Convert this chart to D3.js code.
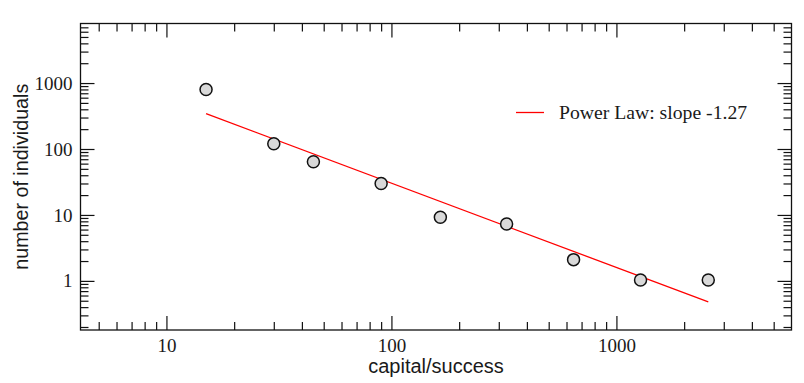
<!DOCTYPE html>
<html>
<head>
<meta charset="utf-8">
<script src="https://cdn.jsdelivr.net/npm/d3@7"></script>
<style>
  html, body { margin: 0; padding: 0; background: #fff; }
  svg { display: block; }
</style>
</head>
<body>
<svg id="chart" width="804" height="383"></svg>
<script>
// ---- data ----
const capital = [15, 30, 45, 90, 165, 325, 645, 1280, 2560];
const individuals = [800, 120, 64, 30, 9.2, 7.3, 2.1, 1.03, 1.03];
const fitX = [15, 2560];
const fitY = [344, 0.48];
const legendLabel = "Power Law: slope -1.27";
const xMajor = [10, 100, 1000];
const xMinor = [5, 6, 7, 8, 9, 20, 30, 40, 50, 60, 70, 80, 90, 200, 300, 400, 500, 600, 700, 800, 900, 2000, 3000, 4000, 5000];
const yMajor = [1, 10, 100, 1000];
const yMinor = [0.2, 0.3, 0.4, 0.5, 0.6, 0.7, 0.8, 0.9, 2, 3, 4, 5, 6, 7, 8, 9, 20, 30, 40, 50, 60, 70, 80, 90, 200, 300, 400, 500, 600, 700, 800, 900, 2000, 3000, 4000, 5000, 6000, 7000];
const xTitle = "capital/success";
const yTitle = "number of individuals";

// ---- layout ----
const L = 80.5, R = 791.5, T = 23.5, B = 330;
const svg = d3.select("#chart");
const x = d3.scaleLog().domain([4.15, 6000]).range([L, R]);
const y = d3.scaleLog().domain([0.18, 8000]).range([B, T]);

const serif = "'Liberation Serif', 'Times New Roman', serif";
const sans = "'Liberation Sans', Arial, sans-serif";

function styleAxis(g) {
  g.select(".domain").remove();
  g.selectAll(".tick line").attr("stroke", "#111").attr("stroke-width", 1.2);
  g.selectAll(".tick text").attr("font-family", serif).attr("font-size", 19).attr("fill", "#1a1a1a");
}

// bottom
svg.append("g").attr("transform", `translate(0,${B})`)
  .call(d3.axisBottom(x).tickValues(xMajor).tickSize(-14).tickPadding(8.5).tickFormat(d3.format("d")))
  .call(styleAxis);
svg.append("g").attr("transform", `translate(0,${B})`)
  .call(d3.axisBottom(x).tickValues(xMinor).tickSize(-8).tickFormat(""))
  .call(styleAxis);
// top
svg.append("g").attr("transform", `translate(0,${T})`)
  .call(d3.axisTop(x).tickValues(xMajor).tickSize(-14).tickFormat(""))
  .call(styleAxis);
svg.append("g").attr("transform", `translate(0,${T})`)
  .call(d3.axisTop(x).tickValues(xMinor).tickSize(-8).tickFormat(""))
  .call(styleAxis);
// left
svg.append("g").attr("transform", `translate(${L},0)`)
  .call(d3.axisLeft(y).tickValues(yMajor).tickSize(-14).tickPadding(8).tickFormat(d3.format("d")))
  .call(styleAxis);
svg.append("g").attr("transform", `translate(${L},0)`)
  .call(d3.axisLeft(y).tickValues(yMinor).tickSize(-8).tickFormat(""))
  .call(styleAxis);
// right
svg.append("g").attr("transform", `translate(${R},0)`)
  .call(d3.axisRight(y).tickValues(yMajor).tickSize(-14).tickFormat(""))
  .call(styleAxis);
svg.append("g").attr("transform", `translate(${R},0)`)
  .call(d3.axisRight(y).tickValues(yMinor).tickSize(-8).tickFormat(""))
  .call(styleAxis);

// frame
svg.append("rect").attr("x", L).attr("y", T).attr("width", R - L).attr("height", B - T)
  .attr("fill", "none").attr("stroke", "#111").attr("stroke-width", 1.3);

// fit line
const fit = fitX.map((d, i) => [d, fitY[i]]);
svg.append("path").datum(fit)
  .attr("d", d3.line().x(d => x(d[0])).y(d => y(d[1])))
  .attr("fill", "none").attr("stroke", "#ff0000").attr("stroke-width", 1.3);

// points
const pts = capital.map((d, i) => [d, individuals[i]]);
svg.append("g").selectAll("circle").data(pts).join("circle")
  .attr("cx", d => x(d[0])).attr("cy", d => y(d[1])).attr("r", 6)
  .attr("fill", "#d9d9d9").attr("stroke", "#111").attr("stroke-width", 1.5);

// legend
svg.append("line").attr("x1", 516).attr("x2", 544).attr("y1", 112.5).attr("y2", 112.5)
  .attr("stroke", "#ff0000").attr("stroke-width", 1.3);
svg.append("text").attr("x", 559).attr("y", 119).text(legendLabel)
  .attr("font-family", serif).attr("font-size", 19.7).attr("fill", "#1a1a1a");

// axis titles
svg.append("text").attr("x", (L + R) / 2).attr("y", 373).attr("text-anchor", "middle")
  .attr("font-family", sans).attr("font-size", 20).attr("fill", "#1a1a1a").text(xTitle);
svg.append("text").attr("transform", `translate(27.5,${(T + B) / 2}) rotate(-90)`)
  .attr("text-anchor", "middle")
  .attr("font-family", sans).attr("font-size", 19.7).attr("fill", "#1a1a1a").text(yTitle);
</script>
</body>
</html>
